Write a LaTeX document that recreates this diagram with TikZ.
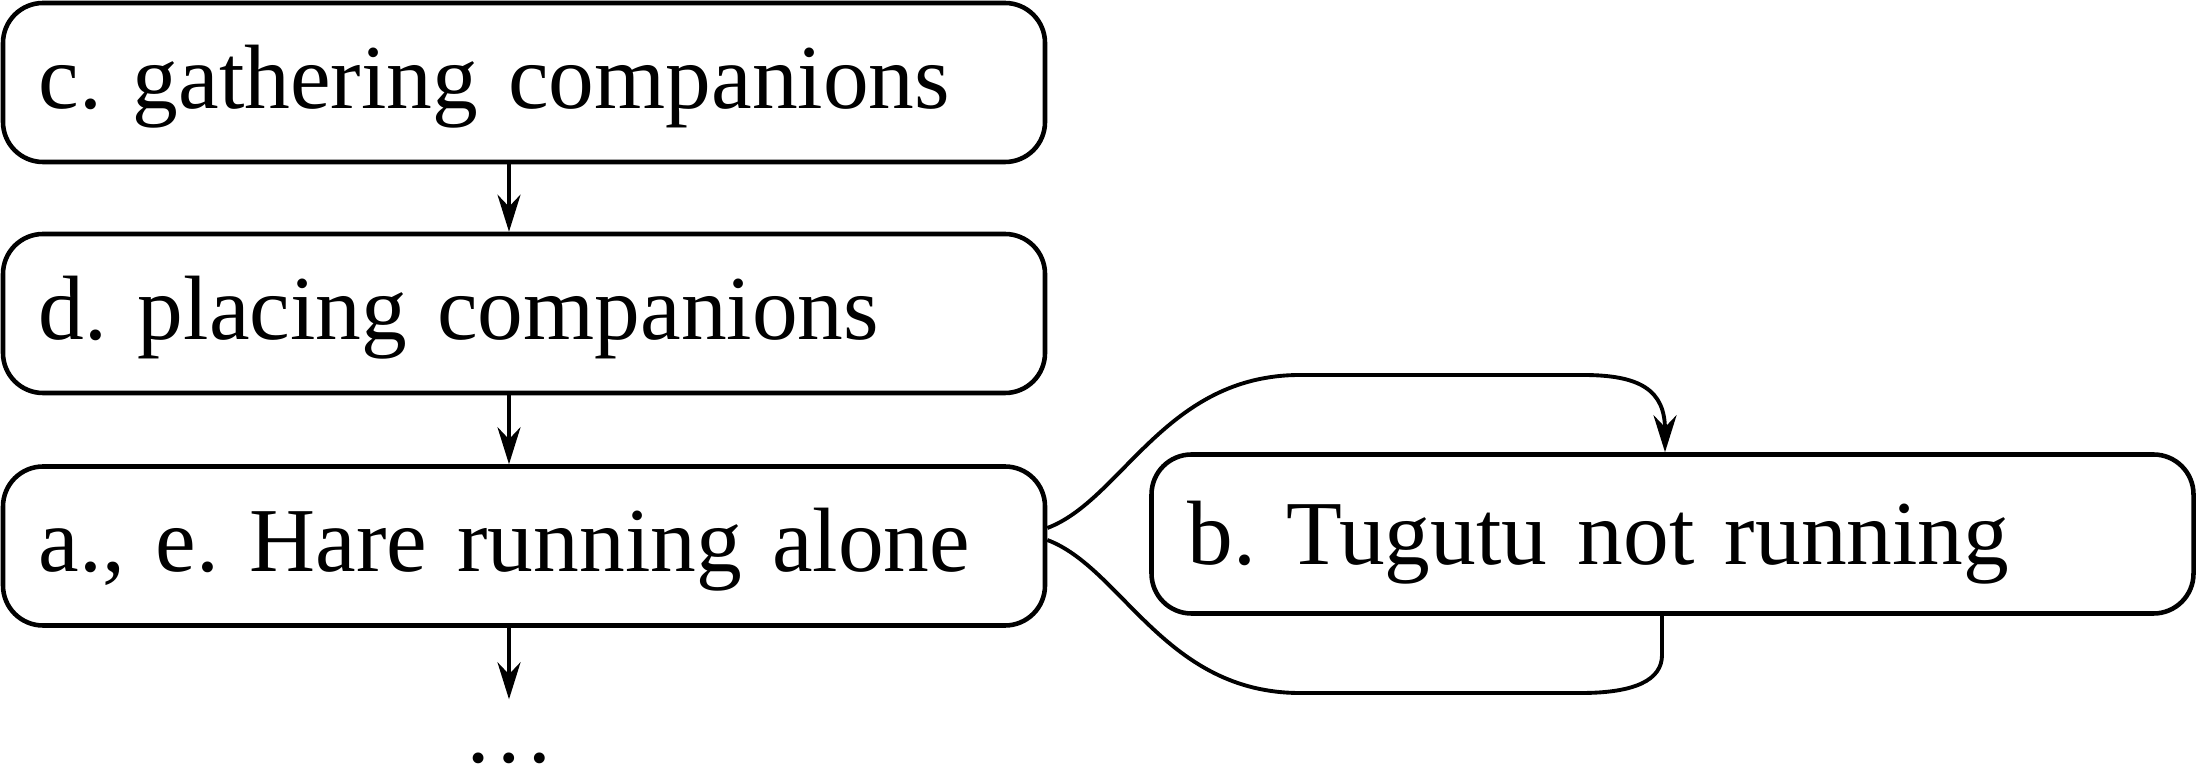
\documentclass[tikz,border=0pt]{standalone}
\usepackage{fontspec}
\setmainfont{Liberation Serif}
\usetikzlibrary{arrows.meta}
\frenchspacing
\begin{document}
\begin{tikzpicture}[x=1cm,y=1cm,
  box/.style={draw, line width=1.3pt, rounded corners=0.4cm,
    minimum height=1.59cm, text width=9.70cm, inner xsep=0.36cm,
    inner ysep=0.1cm, align=left, text height=0.77cm, text depth=0.25cm,
    font=\fontsize{26}{31}\selectfont},
  conn/.style={line width=1.1pt},
  arr/.style={conn, -{Stealth[length=3.7mm,width=2.3mm,inset=1.2mm]}},
  dotsnode/.style={inner sep=0pt, text height=0.62cm, font=\fontsize{26}{31}\selectfont}
]
\useasboundingbox (0,0) rectangle (22,-7.83);

\node[box] (c) at (5.24,-0.825) {c. gathering companions};
\node[box] (d) at (5.24,-3.135) {d. placing companions};
\node[box] (a) at (5.24,-5.46) {a., e. Hare running alone};
\node[box, text height=0.83cm, text depth=0.21cm] (b) at (16.725,-5.34) {b. Tugutu not running};
\node[dotsnode, anchor=base] (dots) at (5.09,-7.62) {\ldots};

\draw[arr] ([xshift=-0.15cm]c.south) -- ([xshift=-0.15cm]d.north);
\draw[arr] ([xshift=-0.15cm]d.south) -- ([xshift=-0.15cm]a.north);
\draw[arr] ([xshift=-0.15cm]a.south) -- (dots.north);

\draw[arr] ([yshift=0.18cm]a.east) .. controls (11.22,-5.00) and (11.65,-3.75) .. (13.00,-3.75)
  -- (15.83,-3.75) .. controls (16.40,-3.75) and (16.65,-3.90) .. (16.65,-4.30)
  -- ([xshift=-0.075cm]b.north);
\draw[conn] ([yshift=0.06cm]a.east) .. controls (11.22,-5.68) and (11.65,-6.93) .. (13.00,-6.93)
  -- (15.81,-6.93) .. controls (16.35,-6.93) and (16.62,-6.80) .. (16.62,-6.55)
  -- ([xshift=-0.105cm]b.south);
\end{tikzpicture}
\end{document}
